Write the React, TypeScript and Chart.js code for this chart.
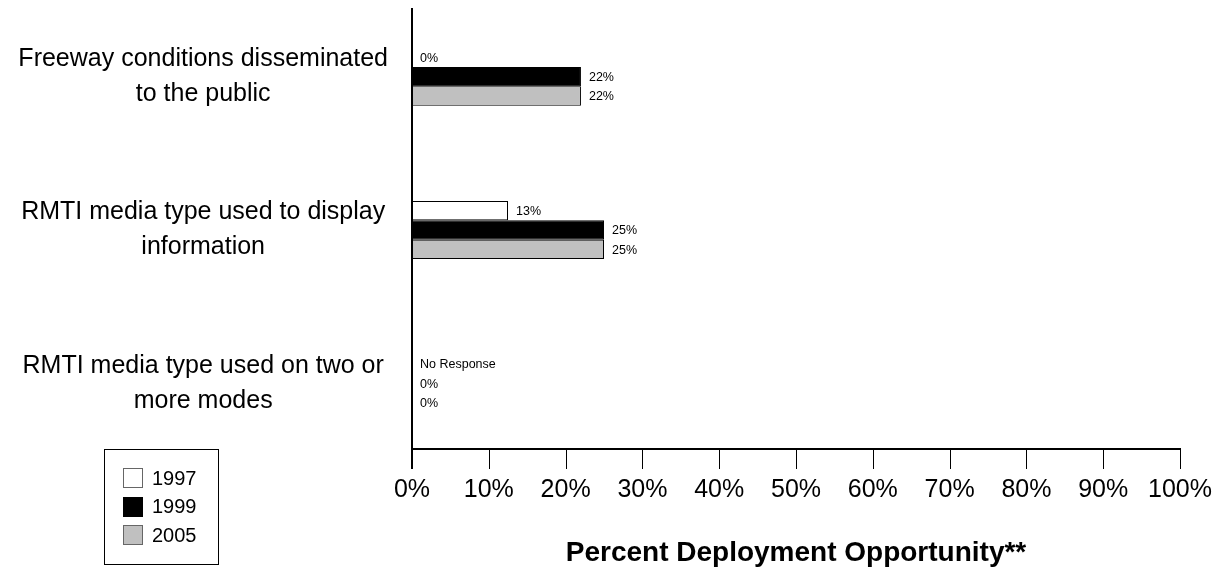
import React, { useEffect, useRef } from "react";
import { Chart, registerables } from "chart.js";

Chart.register(...registerables);

// ---------- data ----------
const categories: string[][] = [
  ["Freeway conditions disseminated", "to the public"],
  ["RMTI media type used to display", "information"],
  ["RMTI media type used on two or", "more modes"],
];
const seriesNames: string[] = ["1997", "1999", "2005"];
const values1997: (number | null)[] = [0, 12.5, null];
const values1999: (number | null)[] = [22, 25, 0];
const values2005: (number | null)[] = [22, 25, 0];
const xTickMin = 0;
const xTickMax = 100;
const xTickStep = 10;
const axisTitle = "Percent Deployment Opportunity**";
const noResponseText = "No Response";

// ---------- styles ----------
const FONT = '"Liberation Sans", Arial, Helvetica, sans-serif';
const fills = ["#FFFFFF", "#000000", "#C0C0C0"];
const borders = ["#000000", "#000000", "#000000"];
const legendBorders = ["#666666", "#000000", "#666666"];

const axesPlugin = {
  id: "axesLines",
  afterDraw(chart: any) {
    const { ctx, chartArea } = chart;
    const xs = chart.scales.x;
    const axisY = chartArea.bottom - 11;
    const x0 = Math.round(xs.getPixelForValue(xTickMin));
    const x1 = Math.round(xs.getPixelForValue(xTickMax));
    ctx.save();
    ctx.strokeStyle = "#000";
    ctx.lineWidth = 2;
    ctx.beginPath();
    ctx.moveTo(x0, 8);
    ctx.lineTo(x0, axisY + 20);
    ctx.stroke();
    ctx.beginPath();
    ctx.moveTo(x0, axisY);
    ctx.lineTo(x1 + 1, axisY);
    ctx.stroke();
    ctx.lineWidth = 1;
    xs.ticks.forEach((t: any) => {
      const px = Math.round(xs.getPixelForValue(t.value)) + 0.5;
      ctx.beginPath();
      ctx.moveTo(px, axisY);
      ctx.lineTo(px, axisY + 20);
      ctx.stroke();
    });
    ctx.restore();
  },
};

const dataLabelPlugin = {
  id: "dataLabels",
  afterDatasetsDraw(chart: any) {
    const { ctx } = chart;
    const xs = chart.scales.x;
    ctx.save();
    ctx.font = `12.5px ${FONT}`;
    ctx.fillStyle = "#000";
    ctx.textAlign = "left";
    ctx.textBaseline = "middle";
    chart.data.datasets.forEach((ds: any, di: number) => {
      const meta = chart.getDatasetMeta(di);
      ds.data.forEach((v: number | null, i: number) => {
        const el = meta.data[i];
        let y = el ? el.y : NaN;
        if (!isFinite(y)) {
          const other = chart.getDatasetMeta(1).data[i];
          y = other.y + (di - 1) * other.height;
        }
        const text = v == null ? noResponseText : Math.round(v) + "%";
        const x = xs.getPixelForValue(v ?? 0) + 8;
        ctx.fillText(text, x, y + 1);
      });
    });
    ctx.restore();
  },
};

const legendPlugin = {
  id: "boxLegend",
  afterDraw(chart: any) {
    const { ctx } = chart;
    ctx.save();
    ctx.strokeStyle = "#000";
    ctx.lineWidth = 1;
    ctx.strokeRect(104.5, 449.5, 114, 115);
    chart.data.datasets.forEach((ds: any, i: number) => {
      const cy = 478 + i * 28.5;
      ctx.fillStyle = ds.backgroundColor;
      ctx.fillRect(123, Math.round(cy - 10), 20, 20);
      ctx.strokeStyle = legendBorders[i];
      ctx.strokeRect(123.5, Math.round(cy - 10) + 0.5, 19, 19);
      ctx.fillStyle = "#000";
      ctx.font = `20px ${FONT}`;
      ctx.textAlign = "left";
      ctx.textBaseline = "middle";
      ctx.fillText(ds.label, 152, cy + 1);
    });
    ctx.restore();
  },
};

export default function App() {
  const ref = useRef<HTMLCanvasElement>(null);

  useEffect(() => {
    document.body.style.margin = "0";
    document.body.style.overflow = "hidden";
    if (!ref.current) return;
    const seriesValues = [values1997, values1999, values2005];
    const chart = new Chart(ref.current, {
      type: "bar",
      data: {
        labels: categories,
        datasets: seriesNames.map((name, i) => ({
          label: name,
          data: seriesValues[i],
          backgroundColor: fills[i],
          borderColor: borders[i],
          borderWidth: 1,
          borderSkipped: "start",
          categoryPercentage: 0.378,
          barPercentage: 1,
        })),
      },
      options: {
        indexAxis: "y",
        responsive: false,
        animation: false,
        devicePixelRatio: 1,
        layout: { padding: { top: 0, right: 48, bottom: 0, left: 0 } },
        plugins: {
          legend: { display: false },
          tooltip: { enabled: false },
        },
        scales: {
          x: {
            type: "linear",
            position: "bottom",
            min: xTickMin,
            max: xTickMax,
            grid: { display: false, drawTicks: false },
            border: { display: false },
            ticks: {
              stepSize: xTickStep,
              autoSkip: false,
              maxRotation: 0,
              padding: 15,
              color: "#000",
              font: { family: FONT, size: 25 },
              callback: (v: any) => v + "%",
            },
            title: {
              display: true,
              text: axisTitle,
              color: "#000",
              font: { family: FONT, size: 28, weight: "bold" },
              padding: { top: 0, bottom: 1 },
            },
            afterFit: (s: any) => {
              s.height = 111;
            },
          },
          y: {
            type: "category",
            offset: true,
            grid: { display: false, drawTicks: false },
            border: { display: false },
            ticks: {
              color: "#000",
              crossAlign: "center",
              padding: 24,
              autoSkip: false,
              font: { family: FONT, size: 25, lineHeight: 1.4 },
            },
            afterFit: (s: any) => {
              s.width = 412;
              s.paddingTop = 0;
              s.paddingBottom = 0;
            },
          },
        },
      } as any,
      plugins: [axesPlugin, dataLabelPlugin, legendPlugin],
    });
    return () => chart.destroy();
  }, []);

  return (
    <div style={{ width: 1228, height: 571, position: "relative", background: "#fff" }}>
      <canvas ref={ref} width={1228} height={571} style={{ display: "block" }} />
    </div>
  );
}
